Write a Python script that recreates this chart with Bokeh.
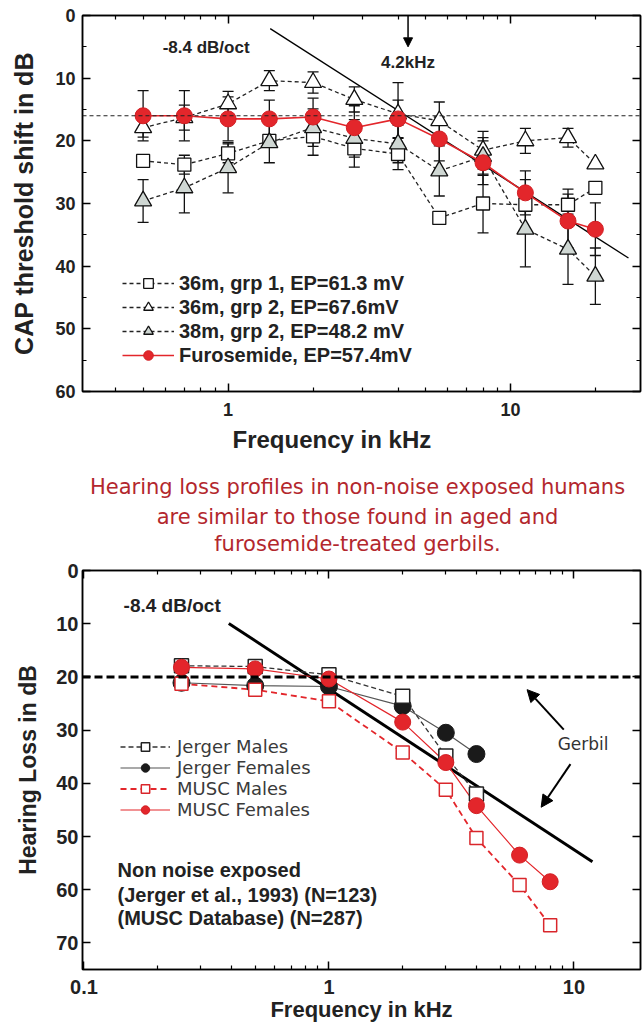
from bokeh.plotting import figure
from bokeh.models import (Range1d, FixedTicker, LinearAxis, Legend, LegendItem, Span,
                          Label, Arrow, NormalHead, Whisker, TeeHead, ColumnDataSource,
                          CustomJSTickFormatter, Title)
from bokeh.layouts import column
from bokeh.embed import file_html
from bokeh.resources import INLINE
from bokeh.core.properties import value

# ---------------- top chart data (CAP threshold shift, dB) ----------------
freq_top = [0.5, 0.7, 1.0, 1.4, 2.0, 2.8, 4.0, 5.6, 8.0, 11.3, 16.0, 20.0]
m36_grp1 = [23.2, 23.8, 22.0, 20.0, 19.3, 21.2, 22.1, 32.3, 30.0, 30.2, 30.2, 27.5]
m36_grp1_err = [0.0, 1.5, 1.5, 3.5, 3.0, 3.0, 2.5, 0.0, 4.7, 4.0, 2.5, 0.0]
m36_grp2 = [17.9, 16.3, 14.1, 10.4, 10.7, 13.4, 15.7, 16.8, 21.5, 20.0, 19.5, 23.7]
m36_grp2_err = [1.5, 2.0, 2.0, 1.6, 1.7, 2.0, 5.0, 3.0, 3.0, 2.0, 1.5, 0.0]
m38_grp2 = [29.6, 27.5, 24.3, 20.3, 17.9, 19.6, 20.5, 24.8, 22.5, 34.1, 37.3, 41.6]
m38_grp2_err = [3.4, 4.0, 4.0, 0.0, 3.0, 3.0, 3.0, 4.0, 3.0, 6.0, 5.6, 4.5]
furosemide = [16.0, 16.0, 16.5, 16.5, 16.2, 17.9, 16.5, 19.7, 23.5, 28.3, 32.8, 34.1]
furosemide_err = [4.0, 4.0, 3.5, 3.0, 3.0, 3.5, 3.0, 3.5, 3.5, 3.5, 4.3, 4.2]
ref_level_top = 16.0
slope_top_x = [1.41, 26.2]
slope_top_y = [2.1, 38.7]
labels_top = ["36m, grp 1, EP=61.3 mV", "36m, grp 2, EP=67.6mV",
              "38m, grp 2, EP=48.2 mV", "Furosemide, EP=57.4mV"]

# ---------------- bottom chart data (hearing loss, dB) ----------------
freq_bot = [0.25, 0.5, 1.0, 2.0, 3.0, 4.0, 6.0, 8.0]
jerger_males = [17.9, 18.05, 19.6, 23.65, 34.85, 42.0]
jerger_females = [21.1, 21.65, 21.8, 25.5, 30.5, 34.5]
musc_males = [21.3, 22.4, 24.6, 34.2, 41.2, 50.3, 59.1, 66.7]
musc_females = [18.2, 18.5, 20.4, 28.5, 36.1, 44.2, 53.5, 58.5]
gerbil_level = 20.0
slope_bot_x = [0.39, 11.9]
slope_bot_y = [9.95, 54.75]
labels_bot = ["Jerger Males", "Jerger Females", "MUSC Males", "MUSC Females"]

middle_text = ["Hearing loss profiles in non-noise exposed humans",
               "are similar to those found in aged and",
               "furosemide-treated gerbils."]
note_text = ["Non noise exposed", "(Jerger et al., 1993)  (N=123)", "(MUSC Database)  (N=287)"]

FONT = "Liberation Sans"
RED = "#e3262b"
BL, BR = 82, 4          # common frame borders (column aligns frames)
W = 644
fmt = CustomJSTickFormatter(code="return tick.toString();")
blank = CustomJSTickFormatter(code="return '';")


def style_axis(ax, labels=True, size="18px"):
    ax.axis_line_color = "black"
    ax.axis_line_width = 1.5
    ax.major_tick_line_color = "black"
    ax.major_tick_line_width = 1.5
    ax.minor_tick_line_color = "black"
    ax.minor_tick_line_width = 1.2
    ax.major_tick_in = 8
    ax.major_tick_out = 0
    ax.minor_tick_in = 4
    ax.minor_tick_out = 0
    ax.major_label_text_font = FONT
    ax.major_label_text_font_style = "bold"
    ax.major_label_text_color = "#222222"
    ax.major_label_text_font_size = size if labels else "1px"
    if not labels:
        ax.major_label_standoff = 0


# ======================= TOP FIGURE =======================
p1 = figure(width=W, height=465, x_axis_type="log", x_range=Range1d(0.305, 28.9),
            y_range=Range1d(60, 0), output_backend="svg", toolbar_location=None,
            min_border_left=BL, min_border_right=BR, min_border_top=15, min_border_bottom=74,
            background_fill_color="white", border_fill_color="white")
p1.grid.visible = False
p1.outline_line_color = "black"
p1.outline_line_width = 1.5

xt1 = FixedTicker(ticks=[1, 10], minor_ticks=[0.3, 0.4, 0.5, 0.6, 0.7, 0.8, 0.9,
                                              2, 3, 4, 5, 6, 7, 8, 9, 20])
yt1 = FixedTicker(ticks=[0, 10, 20, 30, 40, 50, 60], minor_ticks=[5, 15, 25, 35, 45, 55])
p1.xaxis.ticker = xt1
p1.xaxis.formatter = fmt
p1.yaxis.ticker = yt1
style_axis(p1.xaxis[0])
style_axis(p1.yaxis[0])
p1.xaxis.major_label_standoff = 11
p1.yaxis.major_label_standoff = 7
p1.yaxis.axis_label = "CAP threshold shift in dB"
p1.yaxis.axis_label_text_font = FONT
p1.yaxis.axis_label_text_font_style = "bold"
p1.yaxis.axis_label_text_font_size = "25px"
p1.yaxis.axis_label_text_color = "#222222"
p1.yaxis.axis_label_standoff = 14

top_ax = LinearAxis(ticker=xt1, formatter=blank)
style_axis(top_ax, labels=False)
p1.add_layout(top_ax, "above")
right_ax = LinearAxis(ticker=yt1, formatter=blank)
style_axis(right_ax, labels=False)
p1.add_layout(right_ax, "right")

p1.add_layout(Title(text="Frequency in kHz", align="left", offset=150, text_font=FONT,
                    text_font_style="bold", text_font_size="24px", text_color="#222222",
                    standoff=10), "below")

p1.add_layout(Span(location=ref_level_top, dimension="width", line_color="#222222",
                   line_width=1.2, line_dash="4 3"))
p1.line(slope_top_x, slope_top_y, line_color="black", line_width=1.3)

series_top = [
    (m36_grp1, m36_grp1_err, "square", 13, "white"),
    (m36_grp2, m36_grp2_err, "triangle", 17, "white"),
    (m38_grp2, m38_grp2_err, "triangle", 17, "#cfd7d3"),
]
items1 = []
for (vals, err, mk, sz, fill), lab in zip(series_top, labels_top[:3]):
    src = ColumnDataSource(dict(x=freq_top, y=vals,
                                lo=[v - e for v, e in zip(vals, err)],
                                hi=[v + e for v, e in zip(vals, err)]))
    p1.add_layout(Whisker(source=src, base="x", lower="lo", upper="hi", dimension="height",
                          line_color="#111111", line_width=1.3,
                          upper_head=TeeHead(size=11, line_color="#111111", line_width=1.3),
                          lower_head=TeeHead(size=11, line_color="#111111", line_width=1.3)))
    lr = p1.line("x", "y", source=src, line_color="#222222", line_width=1.3, line_dash="4 3")
    sr = p1.scatter("x", "y", source=src, marker=mk, size=sz, fill_color=fill,
                    line_color="#111111", line_width=1.3)
    items1.append(LegendItem(label=lab, renderers=[lr, sr]))

srcf = ColumnDataSource(dict(x=freq_top, y=furosemide,
                             lo=[v - e for v, e in zip(furosemide, furosemide_err)],
                             hi=[v + e for v, e in zip(furosemide, furosemide_err)]))
p1.add_layout(Whisker(source=srcf, base="x", lower="lo", upper="hi", dimension="height",
                      line_color="#111111", line_width=1.3,
                      upper_head=TeeHead(size=11, line_color="#111111", line_width=1.3),
                      lower_head=TeeHead(size=11, line_color="#111111", line_width=1.3)))
lrf = p1.line("x", "y", source=srcf, line_color=RED, line_width=1.6)
srf = p1.scatter("x", "y", source=srcf, marker="circle", size=16, fill_color=RED,
                 line_color="#d21f24", line_width=1)
items1.append(LegendItem(label=labels_top[3], renderers=[lrf, srf]))

leg1 = Legend(items=items1, location=(40, 24), background_fill_alpha=0, border_line_alpha=0,
              padding=0, margin=0, spacing=0, glyph_width=52, glyph_height=24,
              label_height=24, label_standoff=5, label_text_font=FONT,
              label_text_font_style="bold", label_text_font_size="20px",
              label_text_color="#222222")
p1.add_layout(leg1)

p1.add_layout(Label(x=0.836, y=5.07, text="-8.4 dB/oct", text_align="center",
                    text_baseline="middle", text_font=FONT, text_font_style="bold",
                    text_font_size="17px", text_color="#222222"))
p1.add_layout(Label(x=4.34, y=7.5, text="4.2kHz", text_align="center",
                    text_baseline="middle", text_font=FONT, text_font_style="bold",
                    text_font_size="17px", text_color="#222222"))
p1.add_layout(Arrow(end=NormalHead(size=9, fill_color="black", line_color="black"),
                    x_start=4.34, y_start=0, x_end=4.34, y_end=5.0,
                    line_color="black", line_width=1.5))

# ======================= MIDDLE TEXT =======================
pm = figure(width=W, height=93, x_range=Range1d(BL, W - BR), y_range=Range1d(0, 93),
            output_backend="svg", toolbar_location=None, min_border_left=BL,
            min_border_right=BR, min_border_top=0, min_border_bottom=0,
            x_axis_location=None, y_axis_location=None)
pm.grid.visible = False
pm.outline_line_color = None
pm.text(x=[357, 357, 357], y=[71.3, 41.3, 14.7], text=middle_text, text_align="center",
        text_baseline="middle", text_font=value("DejaVu Sans"), text_font_size="21px",
        text_color="#b3272d")

# ======================= BOTTOM FIGURE =======================
p2 = figure(width=W, height=466, x_axis_type="log", x_range=Range1d(0.0986, 18.7),
            y_range=Range1d(75, 0), output_backend="svg", toolbar_location=None,
            min_border_left=BL, min_border_right=BR, min_border_top=12, min_border_bottom=55,
            background_fill_color="white", border_fill_color="white")
p2.grid.visible = False
p2.outline_line_color = "black"
p2.outline_line_width = 1.5

xt2 = FixedTicker(ticks=[0.1, 1, 10], minor_ticks=[0.2, 0.3, 0.4, 0.5, 0.6, 0.7, 0.8, 0.9,
                                                   2, 3, 4, 5, 6, 7, 8, 9])
yt2 = FixedTicker(ticks=[0, 10, 20, 30, 40, 50, 60, 70])
p2.xaxis.ticker = xt2
p2.xaxis.formatter = fmt
p2.yaxis.ticker = yt2
style_axis(p2.xaxis[0], size="20px")
style_axis(p2.yaxis[0], size="20px")
p2.xaxis.major_label_standoff = 10
p2.yaxis.major_label_standoff = 4
p2.xaxis.axis_label = "Frequency in kHz"
p2.yaxis.axis_label = "Hearing Loss in dB"
for ax in (p2.xaxis[0], p2.yaxis[0]):
    ax.axis_label_text_font = FONT
    ax.axis_label_text_font_style = "bold"
    ax.axis_label_text_font_size = "22px"
    ax.axis_label_text_color = "#222222"
p2.yaxis.axis_label_text_font_size = "23px"
p2.xaxis.axis_label_standoff = 0
p2.yaxis.axis_label_standoff = 12

top_ax2 = LinearAxis(ticker=xt2, formatter=blank)
style_axis(top_ax2, labels=False)
p2.add_layout(top_ax2, "above")
right_ax2 = LinearAxis(ticker=yt2, formatter=blank)
style_axis(right_ax2, labels=False)
p2.add_layout(right_ax2, "right")

p2.add_layout(Span(location=gerbil_level, dimension="width", line_color="black",
                   line_width=3, line_dash="8 4"))
p2.line(slope_bot_x, slope_bot_y, line_color="black", line_width=3)

n_j = len(jerger_males)
ljm = p2.line(freq_bot[:n_j], jerger_males, line_color="#333333", line_width=1.3, line_dash="5 3")
ljf = p2.line(freq_bot[:n_j], jerger_females, line_color="#555555", line_width=1.2)
lmm = p2.line(freq_bot, musc_males, line_color=RED, line_width=1.8, line_dash="6 4")
lmf = p2.line(freq_bot, musc_females, line_color=RED, line_width=1.2)
sjf = p2.scatter(freq_bot[:n_j], jerger_females, marker="circle", size=17,
                 fill_color="#1a1a1a", line_color="#1a1a1a")
sjm = p2.scatter(freq_bot[:n_j], jerger_males, marker="square", size=14,
                 fill_color="white", line_color="#222222", line_width=1.5)
smm = p2.scatter(freq_bot, musc_males, marker="square", size=13,
                 fill_color="white", line_color="#d9262b", line_width=1.5)
smf = p2.scatter(freq_bot, musc_females, marker="circle", size=16,
                 fill_color=RED, line_color="#d21f24")

items2 = [LegendItem(label=labels_bot[0], renderers=[ljm, sjm]),
          LegendItem(label=labels_bot[1], renderers=[ljf, sjf]),
          LegendItem(label=labels_bot[2], renderers=[lmm, smm]),
          LegendItem(label=labels_bot[3], renderers=[lmf, smf])]
leg2 = Legend(items=items2, location=(38, 149), background_fill_alpha=0, border_line_alpha=0,
              padding=0, margin=0, spacing=0, glyph_width=50, glyph_height=21,
              label_height=21, label_standoff=7, label_text_font="DejaVu Sans",
              label_text_font_size="18px", label_text_color="#3a3a3a")
p2.add_layout(leg2)

p2.add_layout(Label(x=0.229, y=6.5, text="-8.4 dB/oct", text_align="center",
                    text_baseline="middle", text_font=FONT, text_font_style="bold",
                    text_font_size="19px", text_color="#222222"))
p2.add_layout(Label(x=10.9, y=32.7, text="Gerbil", text_align="center",
                    text_baseline="middle", text_font="DejaVu Sans",
                    text_font_size="17px", text_color="#333333"))
p2.add_layout(Arrow(end=NormalHead(size=12, fill_color="black", line_color="black"),
                    x_start=9.09, y_start=29.9, x_end=6.44, y_end=22.4,
                    line_color="black", line_width=2))
p2.add_layout(Arrow(end=NormalHead(size=12, fill_color="black", line_color="black"),
                    x_start=9.68, y_start=36.4, x_end=7.35, y_end=44.5,
                    line_color="black", line_width=2))
for txt, yy in zip(note_text, [56.3, 61.0, 65.3]):
    p2.add_layout(Label(x=0.137, y=yy, text=txt, text_align="left", text_baseline="middle",
                        text_font=FONT, text_font_style="bold", text_font_size="20px",
                        text_color="#222222"))

layout = column(p1, pm, p2, spacing=0)
open("out.html", "w").write(file_html(layout, INLINE))
